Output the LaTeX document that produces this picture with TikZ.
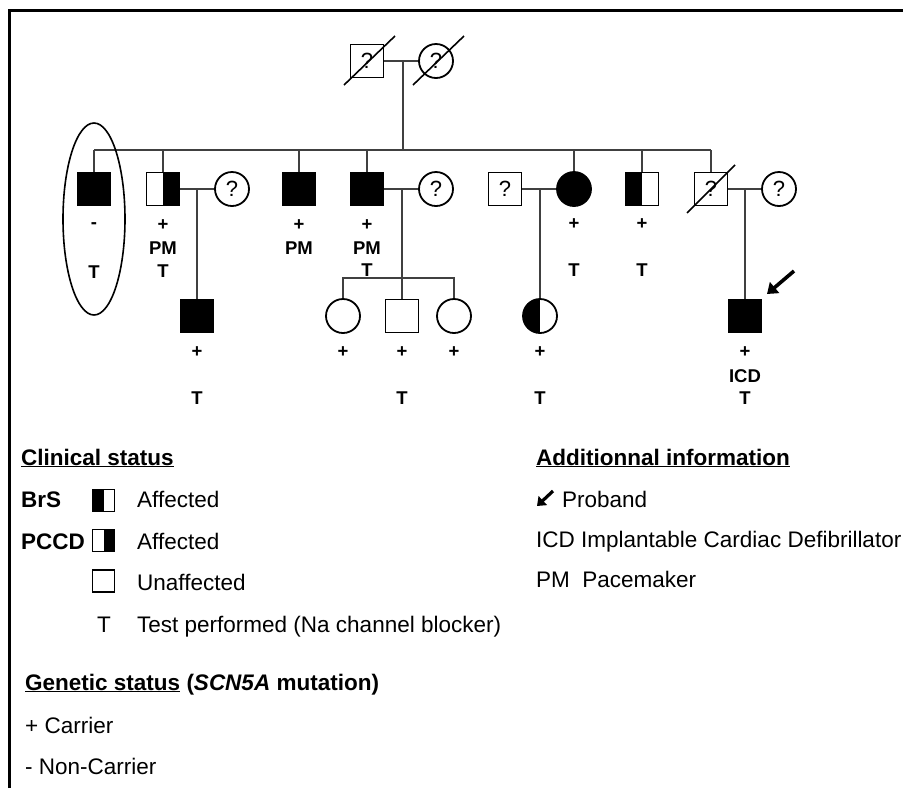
\documentclass[tikz,border=0pt]{standalone}
\usepackage{fontspec}
\setmainfont{Liberation Sans}
\usetikzlibrary{arrows.meta}
\begin{document}
\begin{tikzpicture}[x=1pt,y=-1pt,
  ind/.style={draw=black, line width=1.8pt, inner sep=0pt, font=\fontsize{22}{22}\selectfont},
  male/.style={ind, rectangle, minimum width=33pt, minimum height=33pt},
  female/.style={ind, circle, minimum size=34pt},
  aff/.style={fill=black},
  lefthalf/.style={path picture={\fill[black] (path picture bounding box.north west) rectangle (path picture bounding box.south);}},
  righthalf/.style={path picture={\fill[black] (path picture bounding box.north) rectangle (path picture bounding box.south east);}},
  lbl/.style={font=\bfseries\fontsize{18.5}{18.5}\selectfont, inner sep=0pt},
  link/.style={line width=1.5pt, draw=black!75},
  deadline/.style={line width=1.6pt},
  leg/.style={anchor=base west, inner sep=0pt, font=\fontsize{22.5}{27}\selectfont},
  legsym/.style={draw=black, line width=1.5pt, rectangle, minimum width=22pt, minimum height=22pt, inner sep=0pt},
  arr/.style={line width=3.6pt, -{Triangle[length=10pt,width=14pt]}},
]
\useasboundingbox (0,0) rectangle (903,788);
% frame
\draw[line width=3pt] (9,788) -- (9,10) -- (903,10);

% ---------- Generation I
\node[male] (gf) at (367,61) {?};
\node[female] (gm) at (436,61) {?};
\draw[deadline] (344,85) -- (395,36);
\draw[deadline] (413,85) -- (464,36);
\draw[link] (gf.east) -- (gm.west);
\coordinate (gd) at (403,61);
\coordinate (sibL) at (94,150);
\coordinate (sibR) at (711,150);
\draw[link] (gd) -- (gd |- sibL);
\draw[link] (sibL) -- (sibR);

% ---------- Generation II
\node[male, aff] (a1) at (94,189) {};
\node[male, righthalf] (a2) at (163,189) {};
\node[female] (a2w) at (232,189) {?};
\node[male, aff] (a3) at (299,189) {};
\node[male, aff] (a4) at (367,189) {};
\node[female] (a4w) at (436,189) {?};
\node[male] (a5h) at (505,189) {?};
\node[female, aff] (a5) at (574,189) {};
\node[male, lefthalf] (a6) at (642,189) {};
\node[male] (a7) at (711,189) {?};
\node[female] (a7w) at (779,189) {?};
\draw[deadline] (687,213) -- (735,165);

\foreach \n in {a1,a2,a3,a4,a5,a6,a7}
  \draw[link] (\n.north) -- (\n.north |- sibL);

\draw[link] (a2.east) -- (a2w.west);
\draw[link] (a4.east) -- (a4w.west);
\draw[link] (a5h.east) -- (a5.west);
\draw[link] (a7.east) -- (a7w.west);

% ellipse around a1
\draw[line width=1.6pt] (94,219) ellipse [x radius=31, y radius=96];

% labels Gen II
\node[lbl] (a1g) at (94,226) {-};
\node[lbl] (a1t) at (94,272) {T};
\node[lbl] (a2g) at (163,225) {+};
\node[lbl] (a2p) at (163,248) {PM};
\node[lbl] (a2t) at (163,271) {T};
\node[lbl] (a3g) at (299,225) {+};
\node[lbl] (a3p) at (299,248) {PM};
\node[lbl] (a4g) at (367,225) {+};
\node[lbl] (a4p) at (367,248) {PM};
\node[lbl] (a4t) at (367,270) {T};
\node[lbl] (a5g) at (574,224) {+};
\node[lbl] (a5t) at (574,270) {T};
\node[lbl] (a6g) at (642,224) {+};
\node[lbl] (a6t) at (642,270) {T};

% ---------- Generation III
\node[male, aff] (b1) at (197,316) {};
\node[female] (b2) at (343,316) {};
\node[male] (b3) at (402,316) {};
\node[female] (b4) at (454,316) {};
\node[female, lefthalf] (b5) at (540,316) {};
\node[male, aff] (b6) at (745,316) {};

\coordinate (m2) at (197,189);
\coordinate (m4) at (402,189);
\coordinate (m5) at (540,189);
\coordinate (m7) at (745,189);
\coordinate (sib2) at (343,278);
\draw[link] (m2) -- (b1.north);
\draw[link] (m4) -- (b3.north);
\draw[link] (m5) -- (b5.north);
\draw[link] (m7) -- (b6.north);
\draw[link] (b2.north) -- (b2.north |- sib2) -- (b4.north |- sib2) -- (b4.north);

% labels Gen III
\node[lbl] (b1g) at (197,352) {+};
\node[lbl] (b1t) at (197,398) {T};
\node[lbl] (b2g) at (343,352) {+};
\node[lbl] (b3g) at (402,352) {+};
\node[lbl] (b3t) at (402,398) {T};
\node[lbl] (b4g) at (454,352) {+};
\node[lbl] (b5g) at (540,352) {+};
\node[lbl] (b5t) at (540,398) {T};
\node[lbl] (b6g) at (745,352) {+};
\node[lbl] (b6i) at (745,376) {ICD};
\node[lbl] (b6t) at (745,398) {T};

% proband arrow
\coordinate (pa1) at (794,271);
\coordinate (pa2) at (767,294);
\draw[arr] (pa1) -- (pa2);

% ---------- Legend
\node[leg] (hcs) at (21,465) {\underline{\textbf{Clinical status}}};
\node[leg] (brs) at (21,507) {\textbf{BrS}};
\node[legsym, lefthalf] (sbrs) at (103.5,500.5) {};
\node[leg] (tbrs) at (137,507) {Affected};
\node[leg] (pccd) at (21,549) {\textbf{PCCD}};
\node[legsym, righthalf] (spccd) at (103.5,540.5) {};
\node[leg] (tpccd) at (137,549) {Affected};
\node[legsym] (sun) at (103.5,581) {};
\node[leg] (tun) at (137,590) {Unaffected};
\node[leg] (ts) at (97,632) {T};
\node[leg] (tt) at (137,632) {Test performed (Na channel blocker)};

\node[leg] (hgs) at (25,690) {\underline{\textbf{Genetic status}} \textbf{(\textit{SCN5A} mutation)}};
\node[leg] (car) at (25,733) {+ Carrier};
\node[leg] (ncar) at (25,774) {- Non-Carrier};

\node[leg] (hai) at (536,465) {\underline{\textbf{Additionnal information}}};
\coordinate (la1) at (553,491);
\coordinate (la2) at (537,506);
\draw[line width=3.2pt, -{Triangle[length=8pt,width=12pt]}] (la1) -- (la2);
\node[leg] (prob) at (562,507) {Proband};
\node[leg] (icd) at (536,547) {ICD Implantable Cardiac Defibrillator};
\node[leg] (pm) at (536,587) {PM\ \ Pacemaker};
\end{tikzpicture}
\end{document}
